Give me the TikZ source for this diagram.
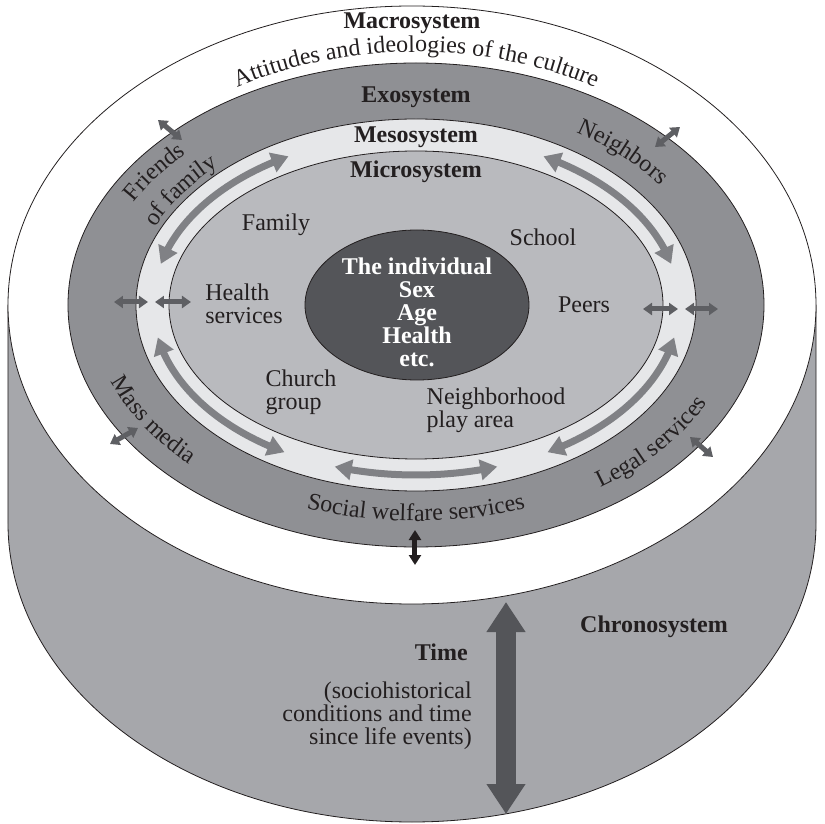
\documentclass[tikz,border=0pt]{standalone}
\usepackage{fontspec}
\setmainfont{Liberation Serif}
\usetikzlibrary{arrows.meta,bending,decorations.text,positioning}
\definecolor{exogray}{HTML}{8F9094}
\definecolor{mesogray}{HTML}{E6E7E9}
\definecolor{microgray}{HTML}{B9BABE}
\definecolor{coregray}{HTML}{545559}
\definecolor{chronogray}{HTML}{A6A7AB}
\definecolor{ringgray}{HTML}{808185}
\definecolor{linkgray}{HTML}{5E5F63}
\definecolor{inkblack}{HTML}{231F20}
\newcommand{\ringfont}{\fontsize{24}{23}\selectfont}
\newcommand{\ArcText}[5]{\path[decorate,decoration={text along path,text align=center,
    text={|\ringfont\color{inkblack}|#5}}] (#3:#1 and #2) arc[start angle=#3,end angle=#4,x radius=#1,y radius=#2];}

\begin{document}
\begin{tikzpicture}[x=1pt,y=1pt,
                    >={Triangle[length=9pt,width=12pt]},
                    font=\ringfont, text=inkblack, inner sep=0pt,
                    ring/.style={draw=inkblack,line width=0.8pt},
                    mesoarrow/.style={draw=ringgray,line width=7pt,
                        {Triangle[length=17pt,width=20pt]}-{Triangle[length=17pt,width=20pt]}},
                    linkarrow/.style={draw=linkgray,line width=5pt,<->},
                    title/.style={font=\ringfont\bfseries},
                    plain/.style={align=left}]

                \useasboundingbox (-416,-519) rectangle (409,305);

                \draw[ring,fill=chronogray] (-408,0) -- (-408,-218)
                    arc[start angle=180,end angle=360,x radius=404,y radius=299] -- (400,0) -- cycle;
                \draw[ring,fill=white] (-4,0) ellipse[x radius=404,y radius=299];
                \draw[ring,fill=exogray] (0,0) ellipse[x radius=348,y radius=242];
                \draw[ring,fill=mesogray] (0,0) ellipse[x radius=280,y radius=186];
                \draw[ring,fill=microgray] (0,0) ellipse[x radius=247,y radius=154];
                \draw[ring,fill=coregray] (1,0) ellipse[x radius=112,y radius=75];

                \foreach \s/\e in {119/166,61/14,191/240,349/300,252/288}
                    \draw[mesoarrow] (\s:263 and 170) arc[start angle=\s,end angle=\e,x radius=263,y radius=170];

                \foreach \n/\a/\b in {wo/{-302,3}/{-268,3},wi/{-261,3}/{-225,3},
                                      ei/{227,-4}/{262,-4},eo/{269,-4}/{302,-4},
                                      nw/{-258,185}/{-234,165},ne/{264,178}/{239,158},
                                      sw/{-306,-139}/{-278,-123},se/{274,-132}/{297,-152}}{
                    \coordinate (\n1) at (\a);
                    \coordinate (\n2) at (\b);
                    \draw[linkarrow] (\n1) -- (\n2);
                }
                \coordinate (s1) at (-1,-225);
                \coordinate (s2) at (-1,-260);
                \draw[draw=inkblack,line width=5pt,{Triangle[length=10pt,width=12pt]}-{Triangle[length=10pt,width=12pt]}] (s1) -- (s2);
                \coordinate (t1) at (90,-297);
                \coordinate (t2) at (90,-509);
                \draw[draw=coregray,line width=19pt,{Triangle[length=30pt,width=37pt]}-{Triangle[length=30pt,width=37pt]}] (t1) -- (t2);

                \ArcText{350}{253}{135}{45}{Attitudes and ideologies of the culture}
                \ArcText{320}{217}{165}{125}{Friends}
                \ArcText{285}{193}{166}{126}{of family}
                \ArcText{301}{204}{66}{26}{Neighbors}
                \ArcText{325}{222}{190}{234}{Mass media}
                \ArcText{325}{222}{298}{342}{Legal services}
                \ArcText{320}{216}{235}{305}{Social welfare services}

                \draw(-4,282) node[title] (macro) {Macrosystem};
                \draw(0,208) node[title] (exo) {Exosystem};
                \draw(0,168) node[title] (meso) {Mesosystem};
                \draw(0,133) node[title] (micro) {Microsystem};
                \draw(-140,80) node (family) {Family};
                \draw(127,68) node (school) {School};
                \draw(-172,1) node[plain] (health) {Health\\services};
                \draw(168,0) node (peers) {Peers};
                \draw(1,-7) node[title,text=white,align=center] (core) {The individual\\Sex\\Age\\Health\\etc.};
                \draw(-115,-87) node[plain] (church) {Church\\group};
                \draw(80,-105) node[plain] (play) {Neighborhood\\play area};
                \draw(238,-322) node[title] (chrono) {Chronosystem};
                \draw(52,-347) node[title,anchor=east] (time) {Time};
                \draw(56,-411) node[align=right,anchor=east] (history) {(sociohistorical\\conditions and time\\since life events)};

            \end{tikzpicture}
\end{document}
